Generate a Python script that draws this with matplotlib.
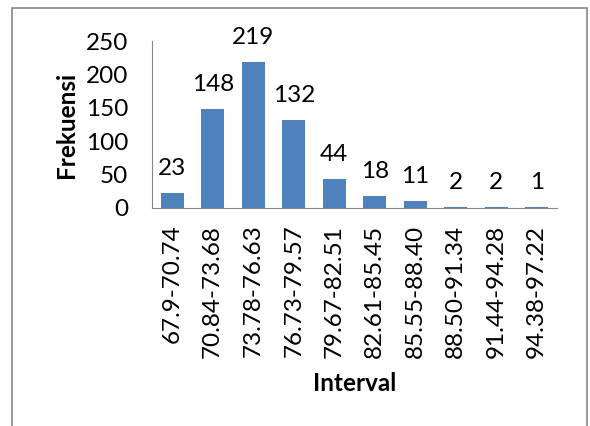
import matplotlib.pyplot as plt
from matplotlib.patches import Rectangle

intervals = ['67.9-70.74', '70.84-73.68', '73.78-76.63', '76.73-79.57', '79.67-82.51',
             '82.61-85.45', '85.55-88.40', '88.50-91.34', '91.44-94.28', '94.38-97.22']
frekuensi = [23, 148, 219, 132, 44, 18, 11, 2, 2, 1]

plt.rcParams['font.family'] = ['Lato', 'DejaVu Sans']
fs = 17.5

fig = plt.figure(figsize=(5.9, 4.26), dpi=100)
ax = fig.add_axes([152 / 590, 1 - 208 / 426, (557 - 152) / 590, (208 - 41) / 426])

x = range(len(intervals))
ax.bar(x, frekuensi, width=0.57, color='#4F81BD')
for i, v in zip(x, frekuensi):
    ax.annotate(str(v), (i, v), xytext=(0, 10), textcoords='offset points',
                ha='center', va='bottom', fontsize=fs)

ax.set_xlim(-0.5, len(intervals) - 0.5)
ax.set_ylim(0, 250)
ax.set_yticks([0, 50, 100, 150, 200, 250])
ax.set_xticks(list(x))
ax.set_xticklabels(intervals, rotation=90, fontsize=fs)
ax.tick_params(axis='y', labelsize=fs, length=0, pad=17)
ax.tick_params(axis='x', length=0, pad=12)
ax.set_ylabel('Frekuensi', fontsize=fs, fontweight='bold', labelpad=6)
ax.set_xlabel('Interval', fontsize=fs, fontweight='bold', labelpad=10)

for s in ['top', 'right']:
    ax.spines[s].set_visible(False)
for s in ['left', 'bottom']:
    ax.spines[s].set_color('#868686')

fig.patches.append(Rectangle((12 / 590, -0.05), 575 / 590, 1 - 8 / 426 + 0.05,
                             transform=fig.transFigure, fill=False,
                             edgecolor='#868686', linewidth=1.2))

fig.savefig('out.png', dpi=100)
